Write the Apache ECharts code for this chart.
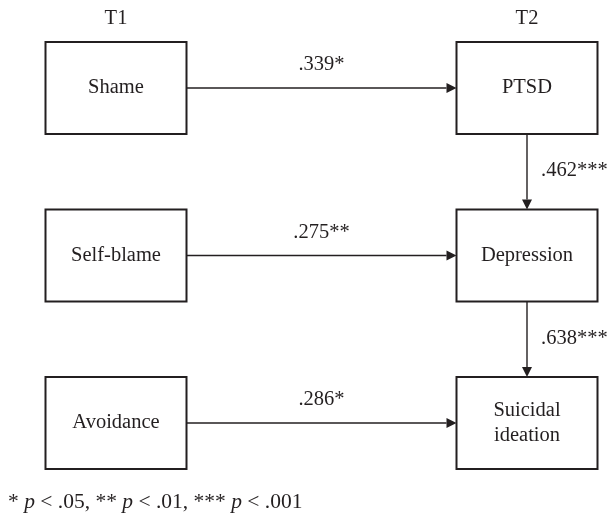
<!DOCTYPE html>
<html>
<head>
<meta charset="utf-8">
<script src="https://cdn.jsdelivr.net/npm/echarts@6/dist/echarts.min.js"></script>
<style>
  html, body { margin: 0; padding: 0; background: #fff; }
  #chart { width: 610px; height: 517px; }
</style>
</head>
<body>
<div id="chart"></div>
<script>
// time points (columns) and the three rows of the path model
const columns = ['T1', 'T2'];
const rows = ['r1', 'r2', 'r3'];

// boxes
const nodeNames = ['Shame', 'Self-blame', 'Avoidance', 'PTSD', 'Depression', 'Suicidal\nideation'];
const nodeCols = [0, 0, 0, 1, 1, 1];
const nodeRows = [0, 1, 2, 0, 1, 2];

// paths: from box -> to box with coefficient
const pathFrom = [0, 1, 2, 3, 4];
const pathTo = [3, 4, 5, 4, 5];
const pathCoefs = ['.339*', '.275**', '.286*', '.462***', '.638***'];

const footnote = '* {i|p} < .05, ** {i|p} < .01, *** {i|p} < .001';

const INK = '#231f20';
const FONT = 'Liberation Serif';
const FS = 20.5;
const BOX_W = 141;
const BOX_H = 92;
const HEAD_LEN = 10;
const HEAD_HALF = 5;

const nodeData = nodeNames.map((n, i) => [nodeCols[i], nodeRows[i]]);
const pathData = pathFrom.map((f, i) => [nodeCols[f], nodeRows[f], nodeCols[pathTo[i]], nodeRows[pathTo[i]]]);

const chart = echarts.init(document.getElementById('chart'));

const option = {
  animation: false,
  backgroundColor: '#fff',
  title: {
    text: footnote,
    left: 8,
    top: 491,
    padding: 0,
    textStyle: {
      fontFamily: FONT,
      fontSize: 21.5,
      fontWeight: 'normal',
      color: INK,
      rich: {
        i: { fontFamily: FONT, fontSize: 21.5, fontStyle: 'italic', color: INK }
      }
    }
  },
  grid: { left: 116, right: 83, top: 88, bottom: 94 },
  xAxis: {
    type: 'category',
    data: columns,
    position: 'top',
    boundaryGap: false,
    axisLine: { show: false },
    axisTick: { show: false },
    splitLine: { show: false },
    axisLabel: {
      margin: 69,
      verticalAlign: 'middle',
      fontFamily: FONT,
      fontSize: FS,
      color: INK
    }
  },
  yAxis: {
    type: 'category',
    data: rows,
    inverse: true,
    boundaryGap: false,
    show: false
  },
  series: [
    {
      // arrows + coefficients
      type: 'custom',
      data: pathData,
      encode: { x: [0, 2], y: [1, 3] },
      renderItem: function (params, api) {
        const p1 = api.coord([api.value(0), api.value(1)]);
        const p2 = api.coord([api.value(2), api.value(3)]);
        const dx = p2[0] - p1[0];
        const dy = p2[1] - p1[1];
        const len = Math.sqrt(dx * dx + dy * dy);
        const ux = dx / len, uy = dy / len;
        const horizontal = Math.abs(dx) > Math.abs(dy);
        const cut = horizontal ? BOX_W / 2 : BOX_H / 2;
        const s = [p1[0] + ux * cut, p1[1] + uy * cut];
        const e = [p2[0] - ux * cut, p2[1] - uy * cut];
        const b = [e[0] - ux * HEAD_LEN, e[1] - uy * HEAD_LEN];
        const nx = -uy, ny = ux;
        const mid = [(p1[0] + p2[0]) / 2, (p1[1] + p2[1]) / 2];
        const label = horizontal
          ? { x: mid[0], y: mid[1] - 23, align: 'center' }
          : { x: mid[0] + 14, y: mid[1] - 1, align: 'left' };
        return {
          type: 'group',
          children: [
            {
              type: 'line',
              shape: { x1: s[0], y1: s[1], x2: b[0], y2: b[1] },
              style: { stroke: INK, lineWidth: 1.4 }
            },
            {
              type: 'polygon',
              shape: { points: [e, [b[0] + nx * HEAD_HALF, b[1] + ny * HEAD_HALF], [b[0] - nx * HEAD_HALF, b[1] - ny * HEAD_HALF]] },
              style: { fill: INK }
            },
            {
              type: 'text',
              x: label.x,
              y: label.y,
              style: {
                text: pathCoefs[params.dataIndex],
                fill: INK,
                fontFamily: FONT,
                fontSize: FS,
                align: label.align,
                verticalAlign: 'middle'
              }
            }
          ]
        };
      }
    },
    {
      // boxes
      type: 'custom',
      data: nodeData,
      encode: { x: 0, y: 1 },
      renderItem: function (params, api) {
        const c = api.coord([api.value(0), api.value(1)]);
        return {
          type: 'group',
          children: [
            {
              type: 'rect',
              shape: { x: c[0] - BOX_W / 2, y: c[1] - BOX_H / 2, width: BOX_W, height: BOX_H },
              style: { fill: '#fff', stroke: INK, lineWidth: 2 }
            },
            {
              type: 'text',
              x: c[0],
              y: c[1],
              style: {
                text: nodeNames[params.dataIndex],
                fill: INK,
                fontFamily: FONT,
                fontSize: FS,
                lineHeight: 25,
                align: 'center',
                verticalAlign: 'middle'
              }
            }
          ]
        };
      }
    }
  ]
};

chart.setOption(option);
</script>
</body>
</html>
